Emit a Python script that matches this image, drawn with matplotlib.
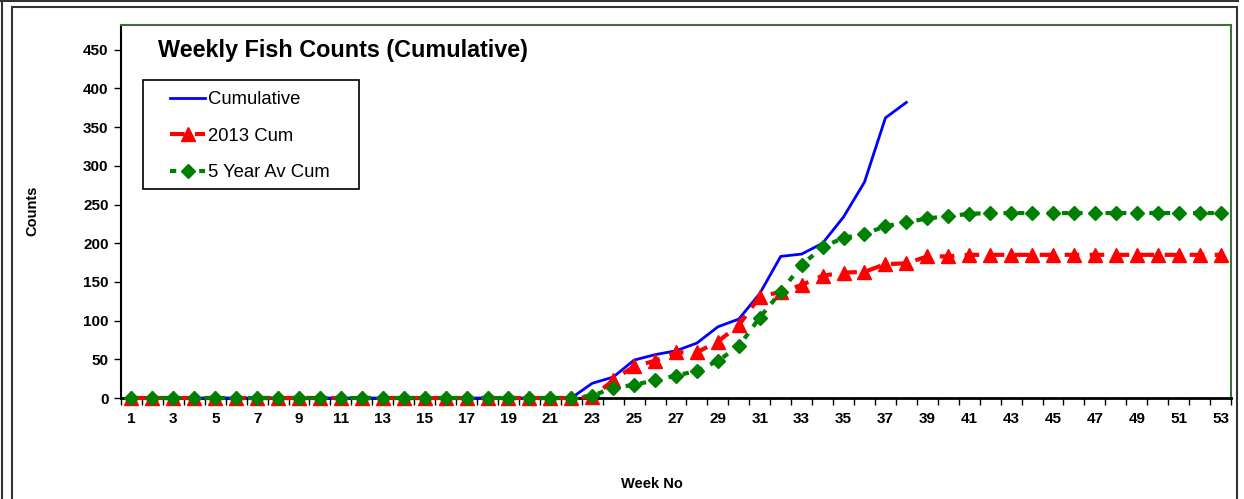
import matplotlib
matplotlib.use('Agg')
import matplotlib.pyplot as plt
from matplotlib.patches import Rectangle
from matplotlib.lines import Line2D

weeks = list(range(1, 54))

cumulative = [0, 0, 0, 0, 0, 0, 0, 0, 0, 0, 0, 0, 0, 0, 0, 0, 0, 0, 0, 0, 0, 0,
              19, 27, 49, 56, 61, 71, 92, 102, 135, 183, 186, 200, 234, 279, 362, 382]

cum_2013 = [0, 0, 0, 0, 0, 0, 0, 0, 0, 0, 0, 0, 0, 0, 0, 0, 0, 0, 0, 0, 0, 0,
            1, 23, 41, 48, 59, 59, 73, 94, 131, 137, 146, 158, 162, 163, 173, 174,
            183, 183, 185, 185, 185, 185, 185, 185, 185, 185, 185, 185, 185, 185, 185]

five_year_av = [0, 0, 0, 0, 0, 0, 0, 0, 0, 0, 0, 0, 0, 0, 0, 0, 0, 0, 0, 0, 0, 0,
                3, 13, 17, 23, 29, 35, 48, 67, 104, 137, 172, 195, 207, 212, 222, 227,
                232, 235, 238, 239, 239, 239, 239, 239, 239, 239, 239, 239, 239, 239, 239]

y_ticks = [0, 50, 100, 150, 200, 250, 300, 350, 400, 450]

plt.rcParams['font.family'] = ['Liberation Sans', 'DejaVu Sans']

W, H = 1244, 499
fig = plt.figure(figsize=(W / 100, H / 100), dpi=100)
ax = fig.add_axes([121 / W, 101 / H, (1231 - 121) / W, (398 - 25) / H])

ax.plot(weeks[:len(cumulative)], cumulative, color='#0000ff', lw=2, clip_on=False, zorder=3,
        label='Cumulative')
ax.plot(weeks, cum_2013, color='#ff0000', lw=3, ls=(0, (3.5, 2.5)), marker='^', ms=10,
        clip_on=False, zorder=4, label='2013 Cum')
ax.plot(weeks, five_year_av, color='#008000', lw=3, ls=(0, (1.5, 2)), marker='D', ms=7.5,
        clip_on=False, zorder=5, label='5 Year Av Cum')

ax.set_xlim(0.5, 53.5)
ax.set_ylim(0, 482)

ax.set_xticks(weeks[::2])
ax.set_xticks([w - 0.5 for w in weeks] + [53.5], minor=True)
ax.tick_params(axis='x', which='major', length=0, pad=10)
ax.tick_params(axis='x', which='minor', length=5, width=1, direction='out')
ax.set_yticks(y_ticks)
ax.tick_params(axis='y', length=5, width=1, direction='out', pad=4)
for lbl in ax.get_xticklabels() + ax.get_yticklabels():
    lbl.set_fontsize(11)
    lbl.set_fontweight('bold')

ax.spines['left'].set_color('black')
ax.spines['bottom'].set_color('black')
ax.spines['left'].set_linewidth(1.5)
ax.spines['bottom'].set_linewidth(2)
ax.spines['top'].set_color('#3f6f3f')
ax.spines['right'].set_color('#3f6f3f')
ax.spines['top'].set_linewidth(1.5)
ax.spines['right'].set_linewidth(1.5)

fig.text(158 / W, 1 - 51 / H, 'Weekly Fish Counts (Cumulative)', fontsize=16.8,
         fontweight='bold', va='center', ha='left')
fig.text(652 / W, 1 - 484 / H, 'Week No', fontsize=10.5, fontweight='bold',
         ha='center', va='center')
fig.text(32 / W, 1 - 211 / H, 'Counts', fontsize=10.5, fontweight='bold',
         ha='center', va='center', rotation=90)

# legend entries without their own frame; the box is drawn separately
leg = fig.legend(loc='upper left', bbox_to_anchor=(170 / W, 1 - 91 / H), fontsize=13.3,
                 frameon=False, handlelength=1.9, handletextpad=0.15, labelspacing=1.06,
                 borderpad=0, borderaxespad=0)
fig.add_artist(Rectangle((143 / W, 1 - 189 / H), (359 - 143) / W, (189 - 80) / H,
                         fill=False, edgecolor='black', lw=1.2, transform=fig.transFigure))

# page frame around the chart
fig.add_artist(Line2D([0, 1238 / W], [1 - 1 / H, 1 - 1 / H], color='#333333', lw=1.5,
                      transform=fig.transFigure))
fig.add_artist(Line2D([2 / W, 2 / W], [0, 1 - 1 / H], color='#333333', lw=1.5,
                      transform=fig.transFigure))
fig.add_artist(Rectangle((12 / W, -0.1), (1237 - 12) / W, 1.1 - 7 / H, fill=False,
                         edgecolor='#333333', lw=1.5, transform=fig.transFigure))

fig.savefig('out.png', dpi=100)
